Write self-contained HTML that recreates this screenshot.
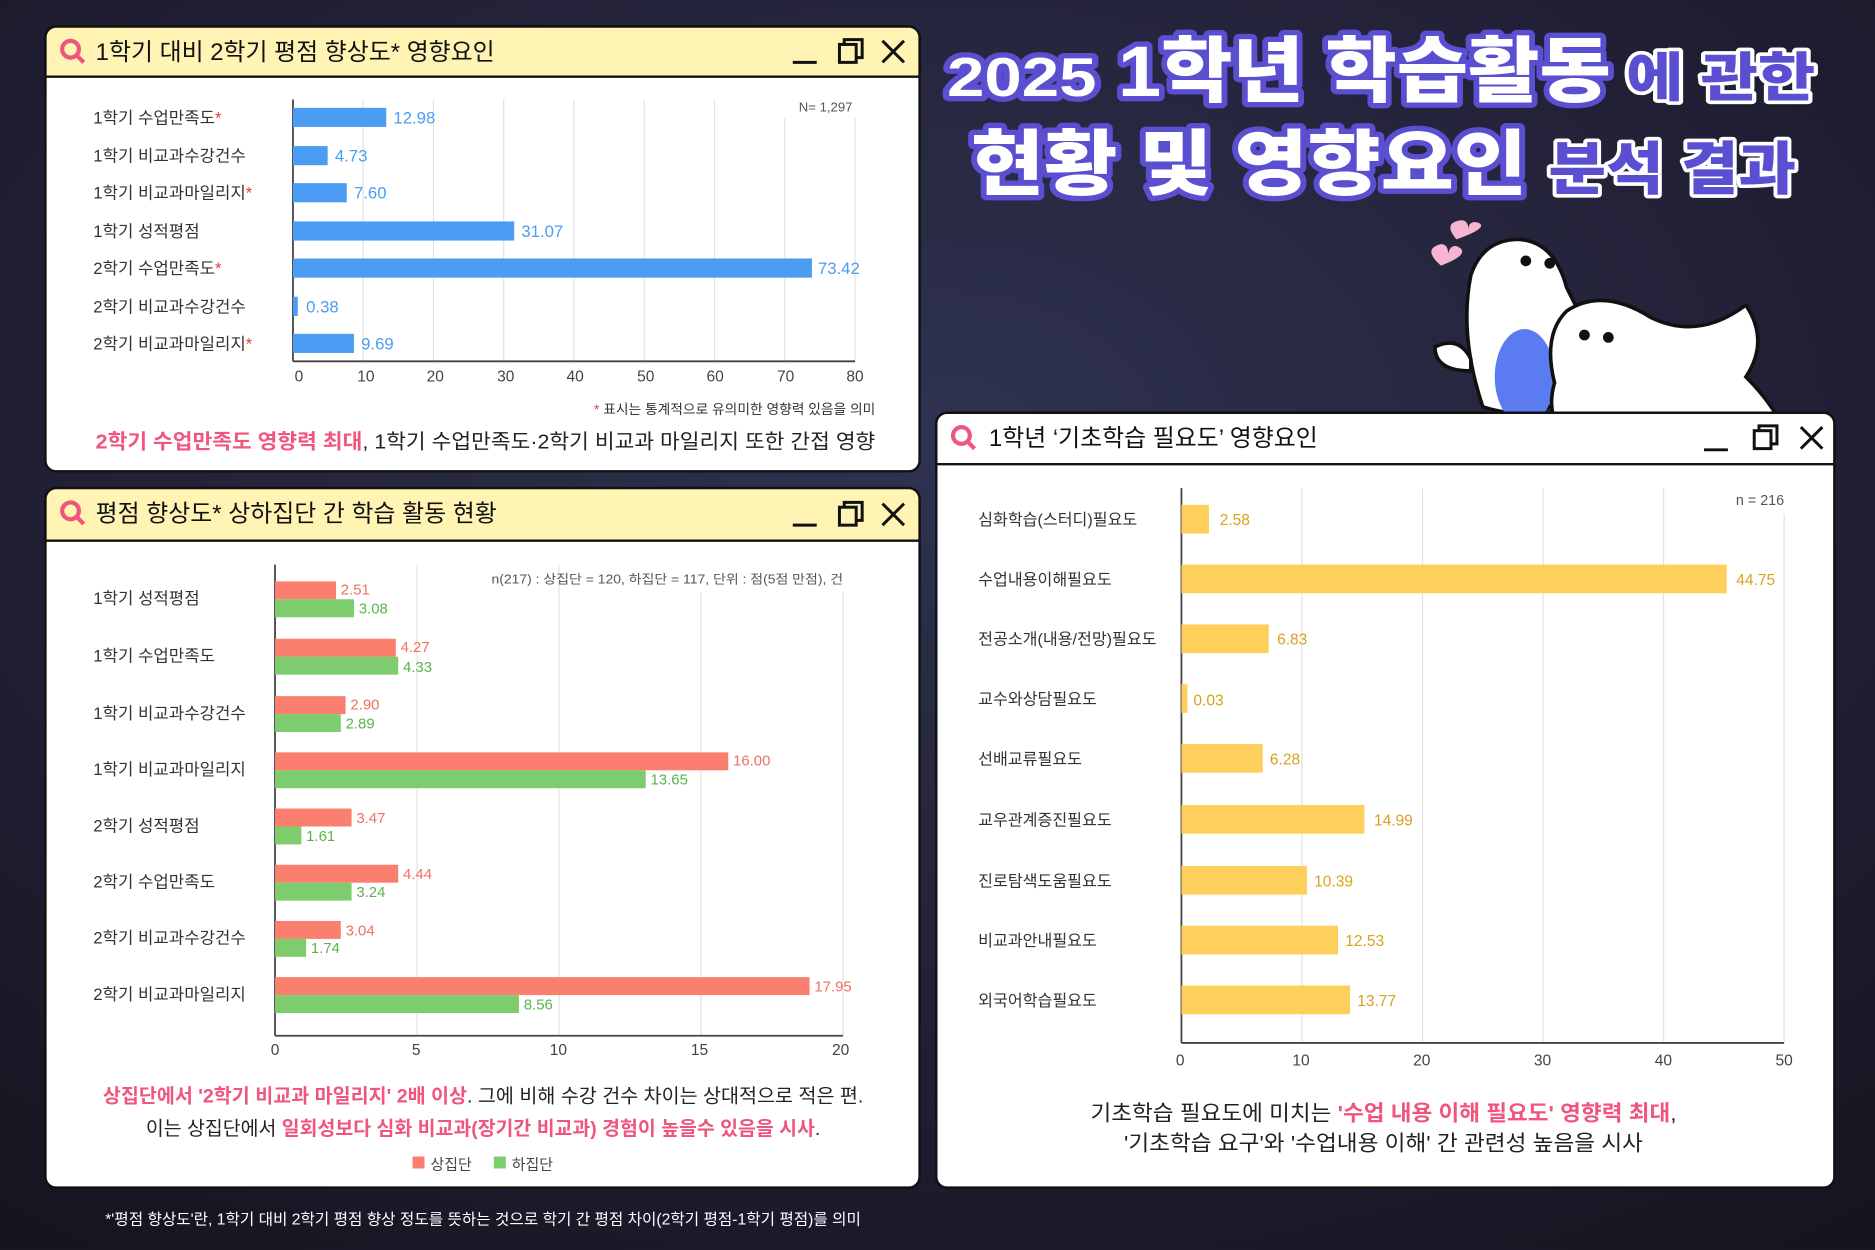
<!DOCTYPE html>
<html><head><meta charset="utf-8"><style>
html,body{margin:0;padding:0;width:1875px;height:1250px;overflow:hidden;background:#1c1b2c}
svg{display:block}
text{font-family:"Liberation Sans","Noto Sans CJK KR",sans-serif}
</style></head><body>
<svg width="1875" height="1250" viewBox="0 0 1568 1045" xmlns="http://www.w3.org/2000/svg">
<defs>
<radialGradient id="bg" cx="0.5" cy="0.35" r="0.8">
<stop offset="0" stop-color="#2f3350"/><stop offset="0.6" stop-color="#211f35"/><stop offset="1" stop-color="#17141f"/>
</radialGradient>
</defs>
<rect width="1568" height="1045" fill="url(#bg)"/>

<!-- Title -->
<g font-weight="900" stroke-linejoin="round">
<text x="792" y="80" font-size="46" fill="#fff" stroke="#5a4fd0" stroke-width="9" paint-order="stroke" textLength="125" lengthAdjust="spacingAndGlyphs">2025</text>
<text x="935" y="80" font-size="60" fill="#fff" stroke="#5a4fd0" stroke-width="9" paint-order="stroke" textLength="412" lengthAdjust="spacingAndGlyphs">1학년 학습활동</text>
<text x="1360" y="80" font-size="44" fill="#5a4fd0" stroke="#fff" stroke-width="6" paint-order="stroke" textLength="158" lengthAdjust="spacingAndGlyphs">에 관한</text>
<text x="812" y="158" font-size="60" fill="#fff" stroke="#5a4fd0" stroke-width="9" paint-order="stroke" textLength="465" lengthAdjust="spacingAndGlyphs">현황 및 영향요인</text>
<text x="1295" y="158" font-size="48" fill="#5a4fd0" stroke="#fff" stroke-width="6" paint-order="stroke" textLength="207" lengthAdjust="spacingAndGlyphs">분석 결과</text>
</g>
<!-- mascots -->
<g stroke="#111" stroke-width="3">
<path d="M1218 200 q-12 -14 4 -16 q6 0 6 8 q0 -8 8 -6 q10 4 -18 14z" fill="#f6b6d3" stroke="none"/>
<path d="M1205 222 q-16 -14 0 -18 q6 0 6 8 q2 -8 8 -6 q12 6 -14 16z" fill="#f6b6d3" stroke="none"/>
<path d="M1240 340 q-20 -60 -10 -110 q10 -30 40 -30 q30 2 40 40 l30 60 q-40 60 -100 40z" fill="#fff"/>
<path d="M1230 300 q-10 -20 -30 -10 q0 20 30 20z" fill="#fff"/>
<ellipse cx="1275" cy="315" rx="25" ry="40" fill="#5a7cf0" stroke="none"/>
<path d="M1300 320 q-10 -40 10 -60 q30 -20 70 5 q40 20 80 -10 q20 30 0 60 q20 20 30 40 q-20 20 -80 20 l-90 0 q-30 -20 -20 -55z" fill="#fff"/>
<circle cx="1276" cy="218" r="3" fill="#111"/><circle cx="1296" cy="220" r="3" fill="#111"/>
<circle cx="1325" cy="280" r="3" fill="#111"/><circle cx="1345" cy="282" r="3" fill="#111"/>
</g>

<!-- Panel 1 -->
<rect x="38" y="22" width="731" height="372" rx="9" fill="#fff" stroke="#111" stroke-width="2"/>
<path d="M38 64 V31 a9 9 0 0 1 9 -9 H760 a9 9 0 0 1 9 9 V64z" fill="#fff4b3" stroke="#111" stroke-width="2"/>
<circle cx="59" cy="41" r="7" fill="none" stroke="#f0557d" stroke-width="3.5"/><line x1="64" y1="46" x2="70" y2="52" stroke="#f0557d" stroke-width="3.5"/>
<text x="80" y="50" font-size="20" fill="#111">1학기 대비 2학기 평점 향상도* 영향요인</text>
<g stroke="#111" stroke-width="2.5" fill="none"><line x1="663" y1="52" x2="683" y2="52"/><rect x="702" y="37" width="14" height="15"/><path d="M706 37 V33 H721 V48 H716"/><path d="M738 34 L756 52 M756 34 L738 52"/></g>
<g stroke="#e2e2e2" stroke-width="1">
<line x1="303.75" y1="83" x2="303.75" y2="302"/><line x1="362.5" y1="83" x2="362.5" y2="302"/><line x1="421.25" y1="83" x2="421.25" y2="302"/><line x1="480" y1="83" x2="480" y2="302"/><line x1="538.75" y1="83" x2="538.75" y2="302"/><line x1="597.5" y1="83" x2="597.5" y2="302"/><line x1="656.25" y1="98" x2="656.25" y2="302"/><line x1="715" y1="98" x2="715" y2="302"/>
</g>
<line x1="245" y1="302" x2="715" y2="302" stroke="#444" stroke-width="1.5"/>
<line x1="245" y1="83" x2="245" y2="302" stroke="#444" stroke-width="1.5"/>
<g fill="#4a9df2">
<rect x="245" y="90" width="78" height="16"/><rect x="245" y="122" width="29" height="16"/><rect x="245" y="153" width="45" height="16"/><rect x="245" y="185" width="185" height="16"/><rect x="245" y="216" width="434" height="16"/><rect x="245" y="248" width="4" height="16"/><rect x="245" y="279" width="51" height="16"/>
</g>
<g font-size="14" fill="#4a9df2">
<text x="329" y="103">12.98</text><text x="280" y="135">4.73</text><text x="296" y="166">7.60</text><text x="436" y="198">31.07</text><text x="684" y="229">73.42</text><text x="256" y="261">0.38</text><text x="302" y="292">9.69</text>
</g>
<g font-size="14" fill="#333">
<text x="78" y="103">1학기 수업만족도<tspan fill="#e83b3b">*</tspan></text>
<text x="78" y="135">1학기 비교과수강건수</text>
<text x="78" y="166">1학기 비교과마일리지<tspan fill="#e83b3b">*</tspan></text>
<text x="78" y="198">1학기 성적평점</text>
<text x="78" y="229">2학기 수업만족도<tspan fill="#e83b3b">*</tspan></text>
<text x="78" y="261">2학기 비교과수강건수</text>
<text x="78" y="292">2학기 비교과마일리지<tspan fill="#e83b3b">*</tspan></text>
</g>
<g font-size="13" fill="#444" text-anchor="middle">
<text x="250" y="319">0</text><text x="306" y="319">10</text><text x="364" y="319">20</text><text x="423" y="319">30</text><text x="481" y="319">40</text><text x="540" y="319">50</text><text x="598" y="319">60</text><text x="657" y="319">70</text><text x="715" y="319">80</text>
</g>
<text x="668" y="93" font-size="11" fill="#555">N= 1,297</text>
<text x="732" y="346" font-size="11.5" fill="#333" text-anchor="end"><tspan fill="#e83b3b">*</tspan> 표시는 통계적으로 유의미한 영향력 있음을 의미</text>
<text x="80" y="375" font-size="17" fill="#222" textLength="652" lengthAdjust="spacingAndGlyphs"><tspan fill="#f0557d" font-weight="bold">2학기 수업만족도 영향력 최대</tspan>, 1학기 수업만족도·2학기 비교과 마일리지 또한 간접 영향</text>

<!-- Panel 2 -->
<rect x="38" y="408" width="731" height="585" rx="9" fill="#fff" stroke="#111" stroke-width="2"/>
<path d="M38 452 V417 a9 9 0 0 1 9 -9 H760 a9 9 0 0 1 9 9 V452z" fill="#fff4b3" stroke="#111" stroke-width="2"/>
<circle cx="59" cy="427" r="7" fill="none" stroke="#f0557d" stroke-width="3.5"/><line x1="64" y1="432" x2="70" y2="438" stroke="#f0557d" stroke-width="3.5"/>
<text x="80" y="436" font-size="20" fill="#111">평점 향상도* 상하집단 간 학습 활동 현황</text>
<g stroke="#111" stroke-width="2.5" fill="none"><line x1="663" y1="439" x2="683" y2="439"/><rect x="702" y="424" width="14" height="15"/><path d="M706 424 V420 H721 V435 H716"/><path d="M738 421 L756 439 M756 421 L738 439"/></g>
<g stroke="#e2e2e2"><line x1="348.75" y1="472" x2="348.75" y2="866"/><line x1="467.5" y1="472" x2="467.5" y2="866"/><line x1="586.25" y1="495" x2="586.25" y2="866"/><line x1="705" y1="495" x2="705" y2="866"/></g>
<line x1="230" y1="866" x2="705" y2="866" stroke="#444" stroke-width="1.5"/>
<line x1="230" y1="472" x2="230" y2="866" stroke="#444" stroke-width="1.5"/>
<g fill="#fa7f6f">
<rect x="230" y="486" width="51" height="15"/><rect x="230" y="534" width="101" height="15"/><rect x="230" y="582" width="59" height="15"/><rect x="230" y="629" width="379" height="15"/><rect x="230" y="676" width="64" height="15"/><rect x="230" y="723" width="103" height="15"/><rect x="230" y="770" width="55" height="15"/><rect x="230" y="817" width="447" height="15"/>
</g>
<g fill="#7dcc6e">
<rect x="230" y="501" width="66" height="15"/><rect x="230" y="549" width="103" height="15"/><rect x="230" y="597" width="55" height="15"/><rect x="230" y="644" width="310" height="15"/><rect x="230" y="691" width="22" height="15"/><rect x="230" y="738" width="64" height="15"/><rect x="230" y="785" width="26" height="15"/><rect x="230" y="832" width="204" height="15"/>
</g>
<g font-size="12.5" fill="#f07060">
<text x="285" y="497">2.51</text><text x="335" y="545">4.27</text><text x="293" y="593">2.90</text><text x="613" y="640">16.00</text><text x="298" y="688">3.47</text><text x="337" y="735">4.44</text><text x="289" y="782">3.04</text><text x="681" y="829">17.95</text>
</g>
<g font-size="12.5" fill="#5cb34c">
<text x="300" y="513">3.08</text><text x="337" y="562">4.33</text><text x="289" y="609">2.89</text><text x="544" y="656">13.65</text><text x="256" y="703">1.61</text><text x="298" y="750">3.24</text><text x="260" y="797">1.74</text><text x="438" y="844">8.56</text>
</g>
<g font-size="14" fill="#333">
<text x="78" y="505">1학기 성적평점</text><text x="78" y="553">1학기 수업만족도</text><text x="78" y="601">1학기 비교과수강건수</text><text x="78" y="648">1학기 비교과마일리지</text><text x="78" y="695">2학기 성적평점</text><text x="78" y="742">2학기 수업만족도</text><text x="78" y="789">2학기 비교과수강건수</text><text x="78" y="836">2학기 비교과마일리지</text>
</g>
<g font-size="13" fill="#444" text-anchor="middle"><text x="230" y="882">0</text><text x="348" y="882">5</text><text x="467" y="882">10</text><text x="585" y="882">15</text><text x="703" y="882">20</text></g>
<text x="411" y="488" font-size="10.5" fill="#555" textLength="294" lengthAdjust="spacingAndGlyphs">n(217) : 상집단 = 120, 하집단 = 117, 단위 : 점(5점 만점), 건</text>
<text x="404" y="922" font-size="16" fill="#222" text-anchor="middle" textLength="636" lengthAdjust="spacingAndGlyphs"><tspan fill="#f0557d" font-weight="bold">상집단에서 '2학기 비교과 마일리지' 2배 이상</tspan>. 그에 비해 수강 건수 차이는 상대적으로 적은 편.</text>
<text x="404" y="949" font-size="16" fill="#222" text-anchor="middle" textLength="564" lengthAdjust="spacingAndGlyphs">이는 상집단에서 <tspan fill="#f0557d" font-weight="bold">일회성보다 심화 비교과(장기간 비교과) 경험이 높을수 있음을 시사</tspan>.</text>
<rect x="345" y="967" width="10" height="10" fill="#fa7f6f"/><text x="360" y="978" font-size="12.5" fill="#444">상집단</text>
<rect x="413" y="967" width="10" height="10" fill="#7dcc6e"/><text x="428" y="978" font-size="12.5" fill="#444">하집단</text>

<!-- Panel 3 -->
<rect x="783" y="345" width="751" height="648" rx="9" fill="#fff" stroke="#111" stroke-width="2"/>
<path d="M783 388 V354 a9 9 0 0 1 9 -9 H1525 a9 9 0 0 1 9 9 V388z" fill="#fff" stroke="#111" stroke-width="2"/>
<circle cx="804" cy="364" r="7" fill="none" stroke="#f0557d" stroke-width="3.5"/><line x1="809" y1="369" x2="815" y2="375" stroke="#f0557d" stroke-width="3.5"/>
<text x="827" y="373" font-size="20" fill="#111">1학년 ‘기초학습 필요도’ 영향요인</text>
<g stroke="#111" stroke-width="2.5" fill="none"><line x1="1425" y1="376" x2="1445" y2="376"/><rect x="1467" y="360" width="14" height="15"/><path d="M1471 360 V356 H1486 V371 H1481"/><path d="M1506 357 L1524 375 M1524 357 L1506 375"/></g>
<g stroke="#e2e2e2"><line x1="1088.8" y1="408" x2="1088.8" y2="872"/><line x1="1189.6" y1="408" x2="1189.6" y2="872"/><line x1="1290.4" y1="408" x2="1290.4" y2="872"/><line x1="1391.2" y1="408" x2="1391.2" y2="872"/><line x1="1492" y1="430" x2="1492" y2="872"/></g>
<line x1="988" y1="872" x2="1492" y2="872" stroke="#444" stroke-width="1.5"/>
<line x1="988" y1="408" x2="988" y2="872" stroke="#444" stroke-width="1.5"/>
<g fill="#ffcf5c">
<rect x="988" y="422" width="23" height="24"/><rect x="988" y="472" width="456" height="24"/><rect x="988" y="522" width="73" height="24"/><rect x="988" y="572" width="5" height="24"/><rect x="988" y="622" width="68" height="24"/><rect x="988" y="673" width="153" height="24"/><rect x="988" y="724" width="105" height="24"/><rect x="988" y="774" width="131" height="24"/><rect x="988" y="824" width="141" height="24"/>
</g>
<g font-size="13" fill="#d9a21b">
<text x="1020" y="439">2.58</text><text x="1452" y="489">44.75</text><text x="1068" y="539">6.83</text><text x="998" y="590">0.03</text><text x="1062" y="639">6.28</text><text x="1149" y="690">14.99</text><text x="1099" y="741">10.39</text><text x="1125" y="791">12.53</text><text x="1135" y="841">13.77</text>
</g>
<g font-size="13.5" fill="#333">
<text x="818" y="439">심화학습(스터디)필요도</text><text x="818" y="489">수업내용이해필요도</text><text x="818" y="539">전공소개(내용/전망)필요도</text><text x="818" y="589">교수와상담필요도</text><text x="818" y="639">선배교류필요도</text><text x="818" y="690">교우관계증진필요도</text><text x="818" y="741">진로탐색도움필요도</text><text x="818" y="791">비교과안내필요도</text><text x="818" y="841">외국어학습필요도</text>
</g>
<g font-size="13" fill="#444" text-anchor="middle"><text x="987" y="891">0</text><text x="1088" y="891">10</text><text x="1189" y="891">20</text><text x="1290" y="891">30</text><text x="1391" y="891">40</text><text x="1492" y="891">50</text></g>
<text x="1492" y="422" font-size="12" fill="#555" text-anchor="end">n = 216</text>
<text x="1157" y="937" font-size="18" fill="#222" text-anchor="middle" textLength="490" lengthAdjust="spacingAndGlyphs">기초학습 필요도에 미치는 <tspan fill="#f0557d" font-weight="bold">'수업 내용 이해 필요도' 영향력 최대</tspan>,</text>
<text x="1157" y="962" font-size="18" fill="#222" text-anchor="middle" textLength="434" lengthAdjust="spacingAndGlyphs">'기초학습 요구'와 '수업내용 이해' 간 관련성 높음을 시사</text>

<text x="88" y="1024" font-size="13" fill="#fff" textLength="632" lengthAdjust="spacingAndGlyphs">*'평점 향상도'란, 1학기 대비 2학기 평점 향상 정도를 뜻하는 것으로 학기 간 평점 차이(2학기 평점-1학기 평점)를 의미</text>
</svg>
</body></html>
